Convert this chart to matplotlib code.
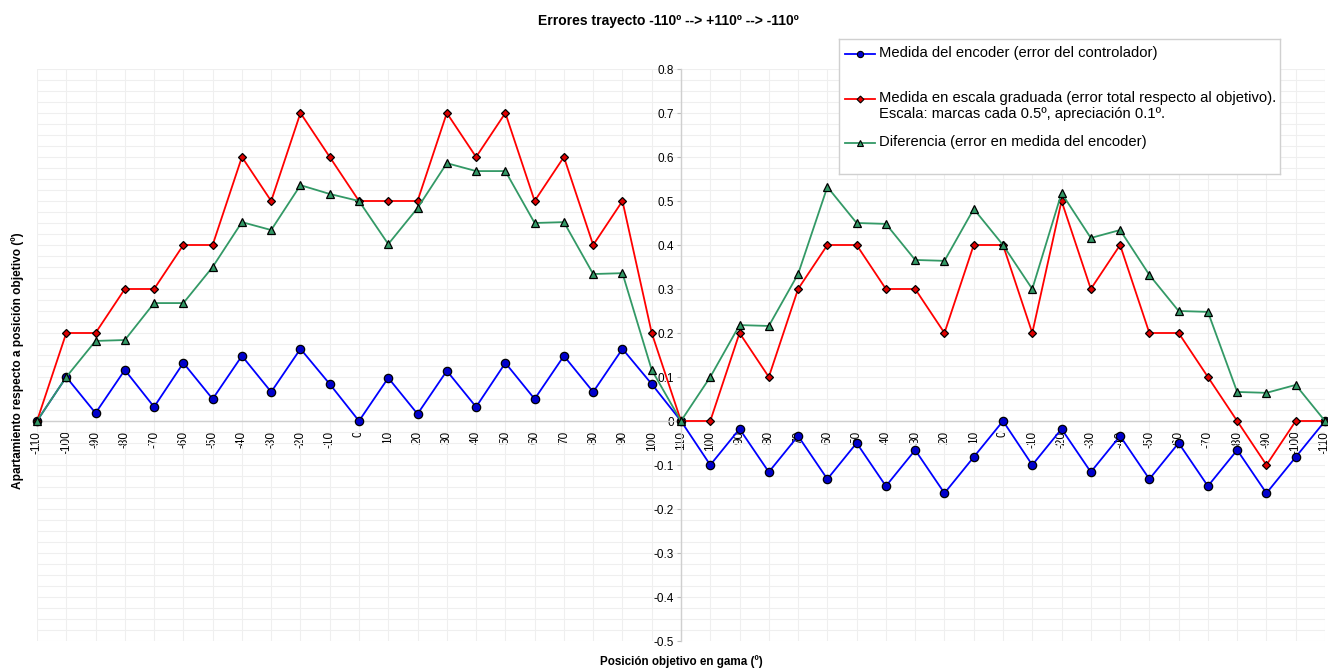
import matplotlib
matplotlib.use("Agg")
import matplotlib.pyplot as plt
import numpy as np

plt.rcParams['font.family'] = ['Liberation Sans', 'DejaVu Sans']

# ---- data ----
positions = [-110, -100, -90, -80, -70, -60, -50, -40, -30, -20, -10, 0, 10, 20, 30, 40, 50, 60, 70, 80, 90, 100, 110,
             100, 90, 80, 70, 60, 50, 40, 30, 20, 10, 0, -10, -20, -30, -40, -50, -60, -70, -80, -90, -100, -110]

encoder = [0, 0.100, 0.018, 0.116, 0.032, 0.132, 0.050, 0.148, 0.066, 0.164, 0.084, 0, 0.098, 0.016, 0.114, 0.032,
           0.132, 0.050, 0.148, 0.066, 0.164, 0.084, 0,
           -0.100, -0.018, -0.116, -0.034, -0.132, -0.050, -0.148, -0.066, -0.164, -0.082, 0, -0.100, -0.018,
           -0.116, -0.034, -0.132, -0.050, -0.148, -0.066, -0.164, -0.082, 0]

escala = [0, 0.2, 0.2, 0.3, 0.3, 0.4, 0.4, 0.6, 0.5, 0.7, 0.6, 0.5, 0.5, 0.5, 0.7, 0.6, 0.7, 0.5, 0.6, 0.4, 0.5, 0.2, 0,
          0, 0.2, 0.1, 0.3, 0.4, 0.4, 0.3, 0.3, 0.2, 0.4, 0.4, 0.2, 0.5, 0.3, 0.4, 0.2, 0.2, 0.1, 0, -0.1, 0, 0]

diferencia = [0, 0.100, 0.182, 0.184, 0.268, 0.268, 0.350, 0.452, 0.434, 0.536, 0.516, 0.500, 0.402, 0.484, 0.586,
              0.568, 0.568, 0.450, 0.452, 0.334, 0.336, 0.116, 0,
              0.100, 0.218, 0.216, 0.334, 0.532, 0.450, 0.448, 0.366, 0.364, 0.482, 0.400, 0.300, 0.518, 0.416,
              0.434, 0.332, 0.250, 0.248, 0.066, 0.064, 0.082, 0]

y_ticks = [0.8, 0.7, 0.6, 0.5, 0.4, 0.3, 0.2, 0.1, 0, -0.1, -0.2, -0.3, -0.4, -0.5]
y_ticklabels = ['0.8', '0.7', '0.6', '0.5', '0.4', '0.3', '0.2', '0.1', '0', '-0.1', '-0.2', '-0.3', '-0.4', '-0.5']

labels = ['Medida del encoder (error del controlador)',
          'Medida en escala graduada (error total respecto al objetivo).\nEscala: marcas cada 0.5º, apreciación 0.1º.',
          'Diferencia (error en medida del encoder)']

title = 'Errores trayecto -110º --> +110º --> -110º'
xlabel = 'Posición objetivo en gama (º)'
ylabel = 'Apartamiento respecto a posición objetivo (º)'

# ---- figure ----
W, H = 1328, 671
fig = plt.figure(figsize=(W / 100, H / 100), dpi=100)
fig.patch.set_facecolor('white')

def fx(px):
    return px / W

def fy(py):
    return 1 - py / H

ax = fig.add_axes([fx(37), fy(641), fx(1325) - fx(37), fy(69) - fy(641)])
idx = np.arange(len(positions))

ax.plot(idx, encoder, color='#0000ff', lw=1.3, marker='o', ms=6, mfc='#0000cc', mec='black', mew=0.9,
        clip_on=False, zorder=3)
ax.plot(idx, escala, color='#ff0000', lw=1.3, marker='D', ms=4.2, mfc='#dd0000', mec='black', mew=0.9,
        clip_on=False, zorder=4)
ax.plot(idx, diferencia, color='#339966', lw=1.3, marker='^', ms=6, mfc='#339966', mec='black', mew=0.9,
        clip_on=False, zorder=5)

# spines
for s in ['top', 'right']:
    ax.spines[s].set_visible(False)
ax.spines['left'].set_position(('data', 22))
ax.spines['bottom'].set_position(('data', 0))
ax.spines['left'].set_color('#cfcfcf')
ax.spines['bottom'].set_color('#cfcfcf')
ax.spines['left'].set_linewidth(1.0)
ax.spines['bottom'].set_linewidth(1.0)

ax.set_yticks(y_ticks)
ax.set_yticklabels(y_ticklabels)
ax.set_yticks(np.arange(-0.5, 0.8001, 0.025), minor=True)
ax.set_xticks(idx)
ax.set_xticklabels([str(p) for p in positions], rotation=90)
ax.tick_params(axis='y', which='major', length=3, color='#bdbdbd', pad=2, labelsize=8.5)
ax.tick_params(axis='x', which='major', length=0, pad=7, labelsize=8.5)
ax.tick_params(which='minor', length=0)
ax.set_axisbelow(True)
ax.grid(True, axis='x', which='major', color='#efefef', lw=0.8)
ax.grid(True, axis='y', which='both', color='#efefef', lw=0.8)

ax.set_xlim(0, len(positions) - 1)
ax.set_ylim(-0.5, 0.8)

# labels
fig.text(fx(668), fy(21), title, ha='center', va='center', fontsize=10, fontweight='bold')
fig.text(fx(681), fy(662), xlabel, ha='center', va='center', fontsize=8.4, fontweight='bold')
fig.text(fx(18), fy(361), ylabel, ha='center', va='center', fontsize=8.6, fontweight='bold', rotation=90)

# legend (manual, Excel-style)
lax = fig.add_axes([fx(839), fy(174), fx(1280) - fx(839), fy(39) - fy(174)])
lax.set_xlim(839, 1280)
lax.set_ylim(174, 39)
lax.set_xticks([])
lax.set_yticks([])
for s in lax.spines.values():
    s.set_color('#d0d0d0')
    s.set_linewidth(1.0)
lax.set_facecolor('white')
legend_styles = [('#0000ff', 'o', '#0000cc', 54, 4.5),
                 ('#ff0000', 'D', '#dd0000', 99, 3.5),
                 ('#339966', '^', '#339966', 143, 4.5)]
for (c, m, mf, yy, msz), lab in zip(legend_styles, labels):
    lax.plot([845, 875], [yy, yy], color=c, lw=1.3)
    lax.plot([860], [yy], marker=m, ms=msz, mfc=mf, mec='black', mew=0.8, color=c)
    lax.text(879, yy - 8, lab, ha='left', va='top', fontsize=10.6, linespacing=1.2)

fig.savefig('out.png', dpi=100, facecolor='white')
